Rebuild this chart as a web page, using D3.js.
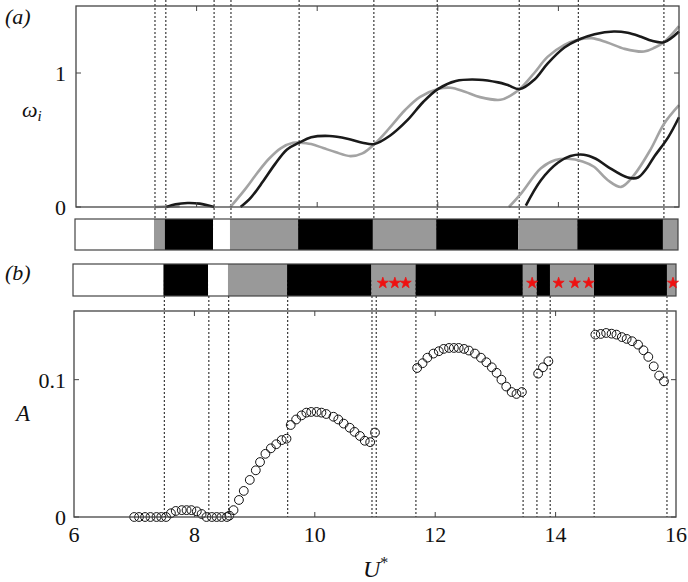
<!DOCTYPE html>
<html>
<head>
<meta charset="utf-8">
<script src="https://cdn.jsdelivr.net/npm/d3@7"></script>
<style>
  body { margin: 0; background: #fff; }
  svg text { font-family: "Liberation Serif", "Times New Roman", Times, serif; fill: #111; }
</style>
</head>
<body>
<svg id="chart" width="688" height="582" font-family="Liberation Serif, serif"></svg>
<script>
// ---------------- data ----------------
// panel (a): growth rates, two models (black / grey), two branches each
var blackU1 = [7.5, 7.65, 7.85, 8.05, 8.29];
var blackW1 = [0, 0.02, 0.03, 0.025, 0];
var greyU1 = [7.31, 7.5, 7.72];
var greyW1 = [0, 0.004, 0.006];

var blackU2 = [8.73, 8.9, 9.1, 9.3, 9.5, 9.7, 9.9, 10.2, 10.5, 10.75, 10.95, 11.2, 11.5, 11.75, 12.0, 12.3, 12.68, 13.0, 13.16, 13.36, 13.6, 13.82, 14.1, 14.34, 14.6, 14.92, 15.15, 15.37, 15.55, 15.75, 16.0];
var blackW2 = [0, 0.07, 0.19, 0.32, 0.43, 0.48, 0.52, 0.53, 0.51, 0.48, 0.47, 0.53, 0.65, 0.78, 0.88, 0.94, 0.95, 0.93, 0.91, 0.88, 0.95, 1.07, 1.19, 1.25, 1.29, 1.31, 1.3, 1.27, 1.24, 1.23, 1.31];
var greyU2 = [8.56, 8.8, 9.0, 9.2, 9.4, 9.6, 9.7, 9.9, 10.1, 10.3, 10.55, 10.75, 10.95, 11.2, 11.45, 11.7, 12.0, 12.21, 12.45, 12.7, 13.04, 13.2, 13.36, 13.6, 13.82, 14.1, 14.34, 14.55, 14.8, 15.1, 15.42, 15.6, 15.75, 16.0];
var greyW2 = [0, 0.13, 0.25, 0.36, 0.44, 0.48, 0.48, 0.47, 0.44, 0.41, 0.38, 0.4, 0.47, 0.59, 0.72, 0.82, 0.88, 0.89, 0.86, 0.82, 0.8, 0.83, 0.88, 1.0, 1.12, 1.21, 1.25, 1.26, 1.23, 1.18, 1.16, 1.19, 1.23, 1.35];

var blackU3 = [13.46, 13.71, 13.99, 14.2, 14.42, 14.62, 14.82, 15.15, 15.32, 15.45, 15.58, 15.82, 16.0];
var blackW3 = [0.01, 0.2, 0.33, 0.38, 0.39, 0.36, 0.3, 0.22, 0.22, 0.28, 0.37, 0.52, 0.67];
var greyU3 = [13.18, 13.38, 13.71, 13.95, 14.16, 14.4, 14.59, 14.82, 15.04, 15.24, 15.53, 15.75, 16.0];
var greyW3 = [0, 0.1, 0.29, 0.35, 0.36, 0.34, 0.3, 0.2, 0.15, 0.23, 0.43, 0.62, 0.76];

// regime boundaries and regime type (0 white, 1 grey, 2 black)
var edgesA = [6, 7.31, 7.49, 8.29, 8.57, 9.70, 10.94, 11.99, 13.35, 14.33, 15.75, 16];
var typesA = [0, 1, 2, 0, 1, 2, 1, 2, 1, 2, 1];
var edgesB = [6, 7.5, 8.24, 8.57, 9.55, 10.95, 11.68, 13.46, 13.69, 13.91, 14.64, 15.85, 16];
var typesB = [0, 2, 0, 1, 2, 1, 2, 1, 2, 1, 2, 1];

// dotted marker lines
var linesA = [7.31, 7.49, 8.29, 8.57, 9.70, 10.94, 11.99, 13.35, 14.33, 15.75];
var linesB = [7.5, 8.24, 8.57, 9.55, 10.95, 11.02, 11.68, 13.46, 13.69, 13.91, 14.64, 15.85];

// red stars in strip (b)
var starU = [11.13, 11.33, 11.51, 13.61, 14.05, 14.32, 14.55, 15.95];

// panel (b): amplitude
var ampU = [7.0, 7.08, 7.18, 7.27, 7.37, 7.45, 7.53,
  7.61, 7.69, 7.79, 7.87, 7.95, 8.04, 8.12,
  8.20, 8.29, 8.37, 8.45, 8.54, 8.58,
  8.65, 8.74, 8.82, 8.92, 9.02, 9.09, 9.18, 9.27, 9.36, 9.45, 9.53,
  9.60, 9.69, 9.78, 9.86, 9.94, 10.03, 10.11, 10.19, 10.31, 10.39, 10.48, 10.58, 10.66, 10.75, 10.83, 10.92, 11.0,
  11.70, 11.79, 11.87, 11.97, 12.06, 12.14, 12.23, 12.31, 12.39, 12.48, 12.56, 12.66, 12.76, 12.85, 12.94, 13.02, 13.10, 13.18, 13.27, 13.35, 13.44,
  13.71, 13.79, 13.88,
  14.66, 14.75, 14.84, 14.93, 15.01, 15.10, 15.18, 15.27, 15.37, 15.46, 15.54, 15.63, 15.72, 15.80];
var ampA = [0, 0, 0, 0, 0, 0, 0,
  0.0027, 0.0044, 0.005, 0.005, 0.005, 0.0041, 0.0022,
  0, 0, 0, 0, 0, 0.001,
  0.005, 0.0124, 0.019, 0.027, 0.034, 0.040, 0.046, 0.050, 0.053, 0.056, 0.057,
  0.067, 0.071, 0.074, 0.076, 0.0765, 0.0765, 0.076, 0.075, 0.073, 0.071, 0.068, 0.065, 0.062, 0.059, 0.0555, 0.0545, 0.0615,
  0.1085, 0.112, 0.116, 0.119, 0.1207, 0.1224, 0.1231, 0.1231, 0.1231, 0.1224, 0.1212, 0.119, 0.116, 0.1127, 0.109, 0.105, 0.100, 0.095, 0.091, 0.0896, 0.091,
  0.1044, 0.109, 0.1134,
  0.1328, 0.1333, 0.134, 0.1335, 0.1328, 0.131, 0.1297, 0.128, 0.1255, 0.1214, 0.1166, 0.1097, 0.103, 0.0988];

var xTicks = [6, 8, 10, 12, 14, 16];

// ---------------- layout ----------------
var svg = d3.select("#chart");
var serif = "'Liberation Serif', 'Times New Roman', serif";
var fillOf = ["#ffffff", "#999999", "#000000"];

var xa = d3.scaleLinear().domain([6, 16]).range([76, 679]);
var ya = d3.scaleLinear().domain([0, 1.5]).range([207, 6]);
var xb = d3.scaleLinear().domain([6, 16]).range([74, 676]);
var yb = d3.scaleLinear().domain([0, 0.15]).range([517, 311]);

function zip(us, vs) { return us.map(function(u, i) { return [u, vs[i]]; }); }

function label(x, y, size, txt, anchor, italic) {
  return svg.append("text").attr("x", x).attr("y", y)
    .attr("text-anchor", anchor || "start")
    .style("font-family", serif).style("font-size", size + "px")
    .style("font-style", italic ? "italic" : "normal")
    .text(txt);
}

// dotted lines (drawn first so strips sit over them)
svg.selectAll("line.va").data(linesA).enter().append("line")
  .attr("x1", function(d) { return xa(d); }).attr("x2", function(d) { return xa(d); })
  .attr("y1", 0).attr("y2", 232)
  .attr("stroke", "#111").attr("stroke-width", 1).attr("stroke-dasharray", "2,2");

svg.selectAll("line.vb").data(linesB).enter().append("line")
  .attr("x1", function(d) { return xb(d); }).attr("x2", function(d) { return xb(d); })
  .attr("y1", 280).attr("y2", 517)
  .attr("stroke", "#111").attr("stroke-width", 1).attr("stroke-dasharray", "2,2");

// ---------------- panel (a) ----------------
var line = d3.line().curve(d3.curveCatmullRom.alpha(0.5))
  .x(function(d) { return xa(d[0]); }).y(function(d) { return ya(d[1]); });

var curves = [
  {pts: zip(greyU1, greyW1), col: "#a3a3a3"},
  {pts: zip(greyU2, greyW2), col: "#a3a3a3"},
  {pts: zip(greyU3, greyW3), col: "#a3a3a3"},
  {pts: zip(blackU1, blackW1), col: "#1a1a1a"},
  {pts: zip(blackU2, blackW2), col: "#1a1a1a"},
  {pts: zip(blackU3, blackW3), col: "#1a1a1a"}
];
svg.selectAll("path.curve").data(curves).enter().append("path")
  .attr("d", function(d) { return line(d.pts); })
  .attr("fill", "none").attr("stroke", function(d) { return d.col; })
  .attr("stroke-width", 2.6);

// frame + inward ticks
svg.append("rect").attr("x", xa(6)).attr("y", ya(1.5)).attr("width", xa(16) - xa(6)).attr("height", ya(0) - ya(1.5))
  .attr("fill", "none").attr("stroke", "#444").attr("stroke-width", 1.3);
[8, 10, 12, 14].forEach(function(t) {
  svg.append("line").attr("x1", xa(t)).attr("x2", xa(t)).attr("y1", ya(0)).attr("y2", ya(0) - 5).attr("stroke", "#444");
  svg.append("line").attr("x1", xa(t)).attr("x2", xa(t)).attr("y1", ya(1.5)).attr("y2", ya(1.5) + 5).attr("stroke", "#444");
});
[0, 1].forEach(function(t) {
  svg.append("line").attr("x1", xa(6)).attr("x2", xa(6) + 5).attr("y1", ya(t)).attr("y2", ya(t)).attr("stroke", "#444");
  svg.append("line").attr("x1", xa(16)).attr("x2", xa(16) - 5).attr("y1", ya(t)).attr("y2", ya(t)).attr("stroke", "#444");
  label(66, ya(t) + 8, 22, t, "end");
});

// ---------------- regime strips ----------------
function strip(edges, types, x, y0, h) {
  var segs = types.map(function(t, i) { return {a: edges[i], b: edges[i + 1], t: t}; });
  svg.selectAll(null).data(segs).enter().append("rect")
    .attr("x", function(d) { return x(d.a); })
    .attr("width", function(d) { return x(d.b) - x(d.a); })
    .attr("y", y0).attr("height", h)
    .attr("fill", function(d) { return fillOf[d.t]; });
  svg.append("rect").attr("x", x(6)).attr("y", y0).attr("width", x(16) - x(6)).attr("height", h)
    .attr("fill", "none").attr("stroke", "#444").attr("stroke-width", 1.2);
}
strip(edgesA, typesA, d3.scaleLinear().domain([6, 16]).range([75, 678]), 219, 31);
strip(edgesB, typesB, d3.scaleLinear().domain([6, 16]).range([73, 676]), 264, 32);

svg.selectAll("path.star").data(starU).enter().append("path")
  .attr("d", d3.symbol().type(d3.symbolStar).size(38))
  .attr("transform", function(d) { return "translate(" + xb(d) + ",283)"; })
  .attr("fill", "#ee1111").attr("stroke", "#ee1111").attr("stroke-width", 0.8);

// ---------------- panel (b) ----------------
svg.selectAll("circle.amp").data(zip(ampU, ampA)).enter().append("circle")
  .attr("cx", function(d) { return xb(d[0]); })
  .attr("cy", function(d) { return yb(d[1]); })
  .attr("r", 4.4)
  .attr("fill", "none").attr("stroke", "#111").attr("stroke-width", 1);

svg.append("rect").attr("x", xb(6)).attr("y", yb(0.15)).attr("width", xb(16) - xb(6)).attr("height", yb(0) - yb(0.15))
  .attr("fill", "none").attr("stroke", "#444").attr("stroke-width", 1.3);
[8, 10, 12, 14].forEach(function(t) {
  svg.append("line").attr("x1", xb(t)).attr("x2", xb(t)).attr("y1", yb(0)).attr("y2", yb(0) - 5).attr("stroke", "#444");
  svg.append("line").attr("x1", xb(t)).attr("x2", xb(t)).attr("y1", yb(0.15)).attr("y2", yb(0.15) + 5).attr("stroke", "#444");
});
[0, 0.1].forEach(function(t) {
  svg.append("line").attr("x1", xb(6)).attr("x2", xb(6) + 5).attr("y1", yb(t)).attr("y2", yb(t)).attr("stroke", "#444");
  svg.append("line").attr("x1", xb(16)).attr("x2", xb(16) - 5).attr("y1", yb(t)).attr("y2", yb(t)).attr("stroke", "#444");
  label(66, yb(t) + 8, 22, t, "end");
});
xTicks.forEach(function(t) {
  label(xb(t), 542, 22, t, "middle");
});

// ---------------- labels ----------------
label(5, 24, 22, "(a)", "start", true);
label(5, 280, 22, "(b)", "start", true);

var wl = label(22, 117, 22, "ω", "start", true);
wl.append("tspan").attr("dy", 4).style("font-size", "15px").text("i");

label(16, 421, 23, "A", "start", true);

var ul = label(363, 577, 24, "U", "start", true);
ul.append("tspan").attr("dy", -9).style("font-size", "16px").style("font-style", "normal").text("*");
</script>
</body>
</html>
